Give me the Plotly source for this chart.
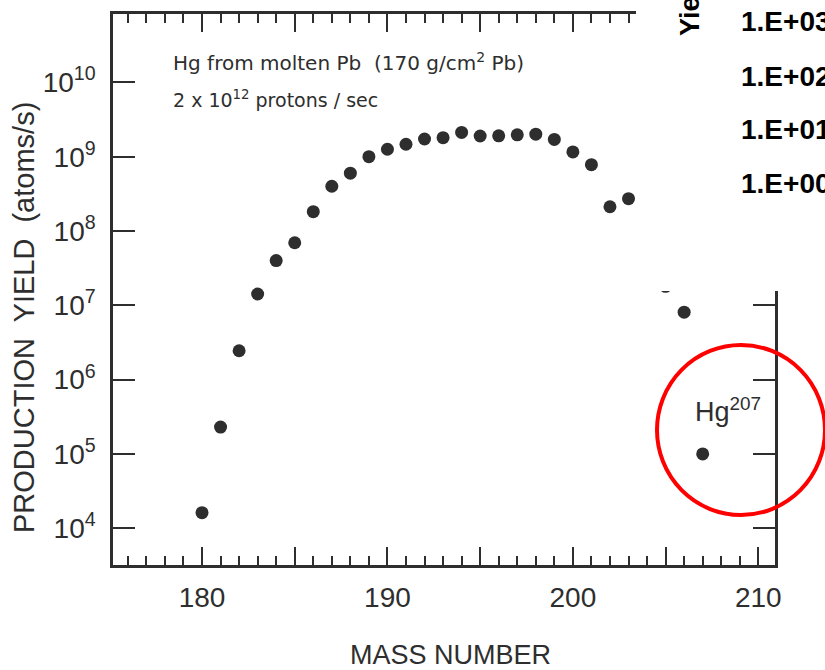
import plotly.graph_objects as go

# ---- data ----
mass = [180, 181, 182, 183, 184, 185, 186, 187, 188, 189, 190, 191, 192, 193,
        194, 195, 196, 197, 198, 199, 200, 201, 202, 203, 205, 206, 207]
yield_atoms = [1.62e4, 2.3e5, 2.45e6, 1.42e7, 4.0e7, 6.95e7, 1.82e8, 4.0e8, 6.0e8,
               1.0e9, 1.26e9, 1.47e9, 1.73e9, 1.80e9, 2.12e9, 1.90e9, 1.91e9,
               1.97e9, 2.01e9, 1.71e9, 1.16e9, 7.8e8, 2.12e8, 2.72e8, 1.8e7,
               8.1e6, 1.0e5]

x_tickvals = [180, 185, 190, 195, 200, 205, 210]
x_ticktext = ["180", "", "190", "", "200", "", "210"]
y_tickvals = [1e4, 1e5, 1e6, 1e7, 1e8, 1e9, 1e10]
y_ticktext = ["10<sup>4</sup>", "10<sup>5</sup>", "10<sup>6</sup>", "10<sup>7</sup>",
              "10<sup>8</sup>", "10<sup>9</sup>", "10<sup>10</sup>"]
overlay_labels = ["1.E+03", "1.E+02", "1.E+01", "1.E+00"]

W, H = 825, 670
L, R, T, B = 113, 50, 14, 105
PW, PH = W - L - R, H - T - B

def px(x):
    return (x - L) / PW

def py(y):
    return (H - B - y) / PH

INK = "#2e2e2e"
FONT = "Liberation Sans"
NOTE_FONT = "DejaVu Sans"

fig = go.Figure()
fig.add_trace(go.Scatter(
    x=mass, y=yield_atoms, mode="markers",
    marker=dict(size=13, color=INK), showlegend=False,
))

fig.update_xaxes(
    range=[175.2, 210.9], showgrid=False, zeroline=False,
    showline=True, linewidth=2.5, linecolor=INK, mirror="ticks",
    tickmode="array", tickvals=x_tickvals, ticktext=x_ticktext,
    ticks="inside", ticklen=18, tickwidth=2, tickcolor=INK,
    minor=dict(dtick=1, tick0=0, ticks="inside", ticklen=9, tickwidth=2, tickcolor=INK),
    tickfont=dict(family=FONT, size=28, color=INK), ticklabelstandoff=6,
)
fig.update_yaxes(
    type="log", range=[3.506, 10.92], showgrid=False, zeroline=False,
    showline=True, linewidth=2.5, linecolor=INK, mirror="ticks",
    tickmode="array", tickvals=y_tickvals, ticktext=y_ticktext,
    ticks="inside", ticklen=22, tickwidth=2, tickcolor=INK,
    tickfont=dict(family=FONT, size=28, color=INK), ticklabelstandoff=9,
)

shapes = [
    dict(type="rect", xref="paper", yref="paper", x0=px(636), x1=px(830),
         y0=py(291), y1=py(-5), fillcolor="white", line=dict(width=0), layer="above"),
    dict(type="circle", xref="paper", yref="paper", x0=px(657), x1=px(825),
         y0=py(515), y1=py(345), line=dict(color="#ff0000", width=4), layer="above"),
]

annotations = [
    dict(text="Hg from molten Pb  (170 g/cm<sup>2</sup> Pb)", x=px(171), y=py(62),
         xref="paper", yref="paper", xanchor="left", yanchor="middle", showarrow=False,
         font=dict(family=NOTE_FONT, size=20, color=INK)),
    dict(text="2 x 10<sup>12</sup> protons / sec", x=px(171), y=py(99),
         xref="paper", yref="paper", xanchor="left", yanchor="middle", showarrow=False,
         font=dict(family=NOTE_FONT, size=19, color=INK)),
    dict(text="Hg<sup>207</sup>", x=px(693), y=py(410),
         xref="paper", yref="paper", xanchor="left", yanchor="middle", showarrow=False,
         font=dict(family=FONT, size=27, color=INK)),
    dict(text="MASS NUMBER", x=px(450), y=py(655),
         xref="paper", yref="paper", xanchor="center", yanchor="middle", showarrow=False,
         font=dict(family=FONT, size=27, color=INK)),
    dict(text="PRODUCTION  YIELD  (atoms/s)", x=px(24), y=py(318), textangle=-90,
         xref="paper", yref="paper", xanchor="center", yanchor="middle", showarrow=False,
         font=dict(family=FONT, size=29, color=INK)),
    dict(text="<b>Yield</b>", x=px(690), y=py(38), textangle=-90,
         xref="paper", yref="paper", xanchor="center", yanchor="bottom", showarrow=False,
         font=dict(family=FONT, size=27, color="black")),
]
for lbl, yc in zip(overlay_labels, [22, 76, 129, 183]):
    annotations.append(dict(text="<b>" + lbl + "</b>", x=px(739), y=py(yc),
                            xref="paper", yref="paper", xanchor="left", yanchor="middle",
                            showarrow=False, font=dict(family=FONT, size=28, color="black")))

fig.update_layout(
    width=W, height=H, margin=dict(l=L, r=R, t=T, b=B),
    paper_bgcolor="white", plot_bgcolor="white",
    shapes=shapes, annotations=annotations,
)

fig.write_html("out.html")
